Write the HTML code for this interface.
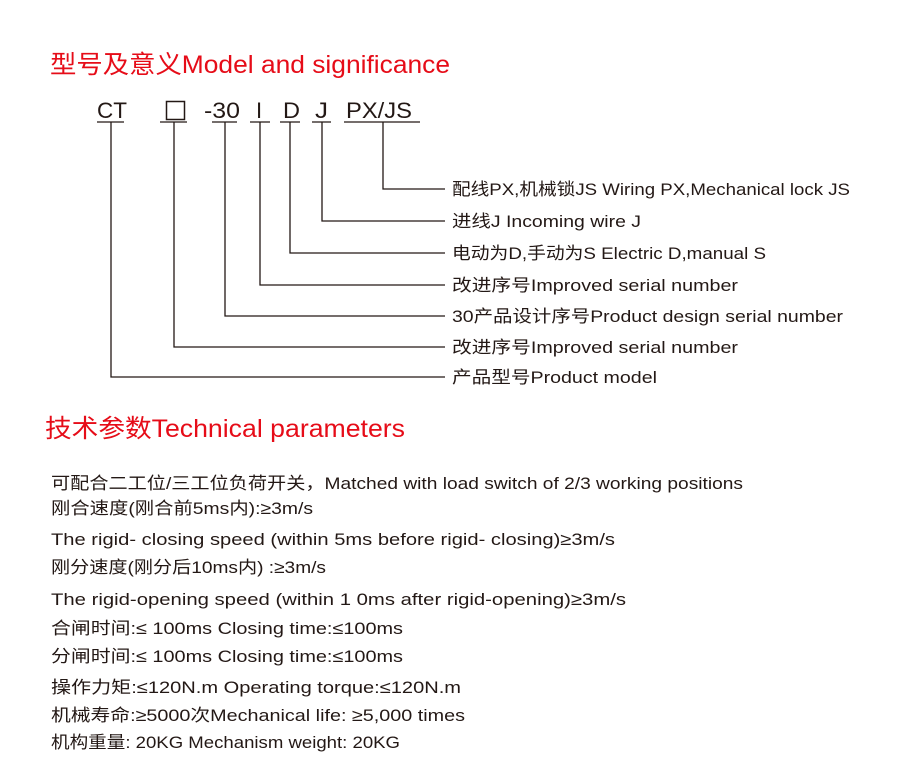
<!DOCTYPE html>
<html><head><meta charset="utf-8"><style>
html,body{margin:0;padding:0;background:#fff;}
svg{display:block}
text{font-family:"Liberation Sans","Noto Sans CJK SC",sans-serif;}
</style></head><body>
<svg width="900" height="783" viewBox="0 0 900 783" xmlns="http://www.w3.org/2000/svg">
<g fill="#e60c18" font-size="25">
<text x="50" y="73" textLength="400" lengthAdjust="spacingAndGlyphs">型号及意义Model and significance</text>
<text x="45" y="437" textLength="360" lengthAdjust="spacingAndGlyphs">技术参数Technical parameters</text>
</g>
<g fill="#231815" font-size="22">
<text x="97" y="118" textLength="30" lengthAdjust="spacingAndGlyphs">CT</text>
<text x="204" y="118" textLength="36" lengthAdjust="spacingAndGlyphs">-30</text>
<text x="256" y="118">I</text>
<text x="283" y="118" textLength="17" lengthAdjust="spacingAndGlyphs">D</text>
<text x="315" y="118" textLength="13" lengthAdjust="spacingAndGlyphs">J</text>
<text x="346" y="118" textLength="66" lengthAdjust="spacingAndGlyphs">PX/JS</text>
</g>
<rect x="166.5" y="101.5" width="18" height="18" fill="none" stroke="#231815" stroke-width="1.5"/>
<g stroke="#231815" stroke-width="1.3" fill="none">
<line x1="97" y1="122" x2="124" y2="122"/>
<line x1="160" y1="122" x2="187" y2="122"/>
<line x1="212" y1="122" x2="237" y2="122"/>
<line x1="250" y1="122" x2="270" y2="122"/>
<line x1="280" y1="122" x2="300" y2="122"/>
<line x1="312" y1="122" x2="331" y2="122"/>
<line x1="344" y1="122" x2="420" y2="122"/>
<polyline points="383,122 383,189 445,189"/>
<polyline points="322,122 322,221 445,221"/>
<polyline points="290,122 290,253 445,253"/>
<polyline points="260,122 260,285 445,285"/>
<polyline points="225,122 225,316 445,316"/>
<polyline points="174,122 174,347 445,347"/>
<polyline points="111,122 111,377 445,377"/>
</g>
<g fill="#231815" font-size="17">
<text x="452" y="195" textLength="398" lengthAdjust="spacingAndGlyphs">配线PX,机械锁JS Wiring PX,Mechanical lock JS</text>
<text x="452" y="227" textLength="189" lengthAdjust="spacingAndGlyphs">进线J Incoming wire J</text>
<text x="452" y="259" textLength="314" lengthAdjust="spacingAndGlyphs">电动为D,手动为S Electric D,manual S</text>
<text x="452" y="291" textLength="286" lengthAdjust="spacingAndGlyphs">改进序号Improved serial number</text>
<text x="452" y="322" textLength="391" lengthAdjust="spacingAndGlyphs">30产品设计序号Product design serial number</text>
<text x="452" y="353" textLength="286" lengthAdjust="spacingAndGlyphs">改进序号Improved serial number</text>
<text x="452" y="383" textLength="205" lengthAdjust="spacingAndGlyphs">产品型号Product model</text>

<text x="51" y="489" textLength="692" lengthAdjust="spacingAndGlyphs">可配合二工位/三工位负荷开关，Matched with load switch of 2/3 working positions</text>
<text x="51" y="514" textLength="262" lengthAdjust="spacingAndGlyphs">刚合速度(刚合前5ms内):≥3m/s</text>
<text x="51" y="545" textLength="564" lengthAdjust="spacingAndGlyphs">The rigid- closing speed (within 5ms before rigid- closing)≥3m/s</text>
<text x="51" y="573" textLength="275" lengthAdjust="spacingAndGlyphs">刚分速度(刚分后10ms内) :≥3m/s</text>
<text x="51" y="605" textLength="575" lengthAdjust="spacingAndGlyphs">The rigid-opening speed (within 1 0ms after rigid-opening)≥3m/s</text>
<text x="51" y="634" textLength="352" lengthAdjust="spacingAndGlyphs">合闸时间:≤ 100ms Closing time:≤100ms</text>
<text x="51" y="662" textLength="352" lengthAdjust="spacingAndGlyphs">分闸时间:≤ 100ms Closing time:≤100ms</text>
<text x="51" y="693" textLength="410" lengthAdjust="spacingAndGlyphs">操作力矩:≤120N.m Operating torque:≤120N.m</text>
<text x="51" y="721" textLength="414" lengthAdjust="spacingAndGlyphs">机械寿命:≥5000次Mechanical life: ≥5,000 times</text>
<text x="51" y="748" textLength="349" lengthAdjust="spacingAndGlyphs">机构重量: 20KG Mechanism weight: 20KG</text>
</g>
</svg>
</body></html>
